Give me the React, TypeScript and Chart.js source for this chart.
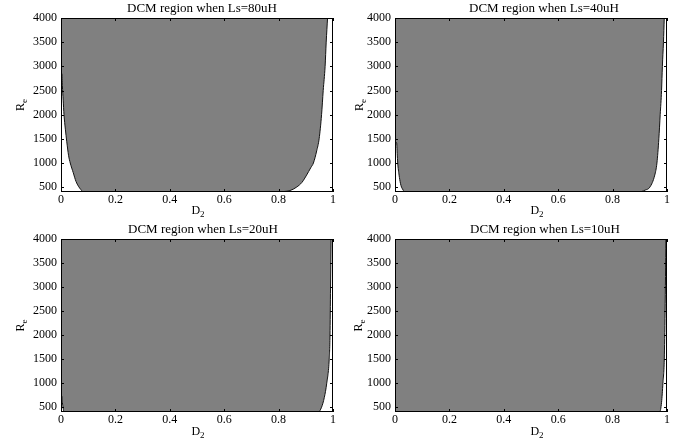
import React, { useEffect, useRef } from "react";
import { Chart, registerables } from "chart.js";

Chart.register(...registerables);

// ---- data ----
const xTicks = [0, 0.2, 0.4, 0.6, 0.8, 1];
const yTicks = [500, 1000, 1500, 2000, 2500, 3000, 3500, 4000];
const titles = [
  "DCM region when Ls=80uH",
  "DCM region when Ls=40uH",
  "DCM region when Ls=20uH",
  "DCM region when Ls=10uH",
];

// lower boundary of the DCM region (region lies above it)
const d80 = [0, 0.003, 0.005, 0.008, 0.011, 0.016, 0.021, 0.028, 0.034, 0.045, 0.055, 0.064, 0.073, 0.082,
  0.8, 0.82, 0.842, 0.866, 0.886, 0.903, 0.918, 0.928, 0.94, 0.949, 0.958, 0.964, 0.971, 0.975, 0.98];
const r80 = [2850, 2850, 2600, 2300, 2000, 1700, 1450, 1150, 1000, 800, 620, 520, 450, 400,
  400, 410, 430, 500, 600, 750, 900, 1000, 1250, 1500, 2000, 2500, 3000, 3500, 4000];

const d40 = [0, 0.006, 0.008, 0.01, 0.015, 0.02, 0.024, 0.03, 0.034,
  0.896, 0.92, 0.937, 0.955, 0.963, 0.97, 0.975, 0.98, 0.983, 0.987, 0.99];
const r40 = [1420, 1420, 1200, 1000, 750, 580, 500, 440, 400,
  400, 440, 500, 750, 1000, 1500, 2000, 2500, 3000, 3500, 4000];

const d20 = [0, 0.003, 0.005, 0.008, 0.011,
  0.946, 0.958, 0.968, 0.977, 0.986, 0.989, 0.991, 0.993];
const r20 = [730, 730, 600, 480, 400,
  400, 500, 700, 1000, 1500, 2000, 3000, 4000];

const d10 = [0, 0.973, 0.98, 0.985, 0.99, 0.993, 0.996];
const r10 = [400, 400, 600, 1000, 1500, 2500, 4000];

const series = [
  [d80, r80],
  [d40, r40],
  [d20, r20],
  [d10, r10],
];

const W = 344;
const H = 221;
const FONT = "'Liberation Serif', 'Times New Roman', serif";

type Panel = {
  left: number; right: number; top: number; bottom: number;
  titleX: number; xTitleX: number; yTitleX: number;
};

const panels: Panel[] = [
  { left: 61, right: 333, top: 18, bottom: 192, titleX: 202, xTitleX: 198, yTitleX: 24 },
  { left: 51, right: 323, top: 18, bottom: 192, titleX: 200, xTitleX: 193, yTitleX: 19 },
  { left: 61, right: 333, top: 18, bottom: 191, titleX: 203, xTitleX: 198, yTitleX: 24 },
  { left: 51, right: 323, top: 18, bottom: 191, titleX: 201, xTitleX: 193, yTitleX: 18 },
];

function makeDecor(idx: number) {
  const p = panels[idx];
  return {
    id: "decor" + idx,
    afterDatasetsDraw(chart: any) {
      const ctx = chart.ctx as CanvasRenderingContext2D;
      const a = chart.chartArea;
      const xs = chart.scales.x;
      const ys = chart.scales.y;
      ctx.save();
      ctx.strokeStyle = "#000";
      ctx.lineWidth = 1;
      // box
      ctx.strokeRect(a.left + 0.5, a.top + 0.5, a.right - a.left - 1, a.bottom - a.top - 1);
      // inward ticks
      const tl = 3;
      ctx.beginPath();
      xTicks.forEach((v) => {
        const x = Math.round(xs.getPixelForValue(v)) + 0.5;
        ctx.moveTo(x, a.bottom);
        ctx.lineTo(x, a.bottom - tl);
        ctx.moveTo(x, a.top);
        ctx.lineTo(x, a.top + tl);
      });
      yTicks.forEach((v) => {
        const y = Math.round(ys.getPixelForValue(v)) + 0.5;
        ctx.moveTo(a.left, y);
        ctx.lineTo(a.left + tl, y);
        ctx.moveTo(a.right, y);
        ctx.lineTo(a.right - tl, y);
      });
      ctx.stroke();

      ctx.fillStyle = "#000";
      // title
      ctx.font = "13px " + FONT;
      ctx.textAlign = "center";
      ctx.textBaseline = "alphabetic";
      ctx.fillText(titles[idx], p.titleX, 12);

      // x title D2
      ctx.font = "12px " + FONT;
      const wD = ctx.measureText("D").width;
      ctx.font = "9px " + FONT;
      const w2 = ctx.measureText("2").width;
      const x0 = p.xTitleX - (wD + w2) / 2;
      ctx.textAlign = "left";
      ctx.font = "12px " + FONT;
      ctx.fillText("D", x0, 214);
      ctx.font = "9px " + FONT;
      ctx.fillText("2", x0 + wD, 217);

      // y title Re (rotated)
      ctx.translate(p.yTitleX, (a.top + a.bottom) / 2);
      ctx.rotate(-Math.PI / 2);
      ctx.font = "12px " + FONT;
      const wR = ctx.measureText("R").width;
      ctx.font = "9px " + FONT;
      const we = ctx.measureText("e").width;
      const y0 = -(wR + we) / 2;
      ctx.font = "12px " + FONT;
      ctx.fillText("R", y0, 0);
      ctx.font = "9px " + FONT;
      ctx.fillText("e", y0 + wR, 3);
      ctx.restore();
    },
  };
}

function Panel({ idx }: { idx: number }) {
  const ref = useRef<HTMLCanvasElement>(null);
  useEffect(() => {
    const p = panels[idx];
    const [ds, rs] = series[idx];
    const data = ds.map((d, i) => ({ x: d, y: rs[i] }));
    const chart = new Chart(ref.current!, {
      type: "line",
      data: {
        datasets: [
          {
            data,
            borderColor: "#111",
            borderWidth: 1,
            backgroundColor: "#808080",
            fill: "end",
            pointRadius: 0,
            cubicInterpolationMode: "monotone",
          },
        ],
      },
      options: {
        animation: false,
        responsive: false,
        events: [],
        layout: {
          autoPadding: false,
          padding: { left: 0, top: p.top, right: W - p.right, bottom: 0 },
        },
        plugins: { legend: { display: false }, tooltip: { enabled: false }, title: { display: false } },
        scales: {
          x: {
            type: "linear",
            min: 0,
            max: 1,
            grid: { display: false, drawTicks: false },
            border: { display: false },
            afterBuildTicks: (s: any) => {
              s.ticks = xTicks.map((v) => ({ value: v }));
            },
            afterFit: (s: any) => {
              s.height = H - p.bottom;
            },
            ticks: {
              color: "#000",
              padding: 1,
              maxRotation: 0,
              autoSkip: false,
              font: { family: FONT, size: 12 },
              callback: (v: any) => String(v),
            },
          },
          y: {
            type: "linear",
            min: 400,
            max: 4000,
            grid: { display: false, drawTicks: false },
            border: { display: false },
            afterBuildTicks: (s: any) => {
              s.ticks = yTicks.map((v) => ({ value: v }));
            },
            afterFit: (s: any) => {
              s.width = p.left;
            },
            ticks: {
              color: "#000",
              padding: 4,
              autoSkip: false,
              font: { family: FONT, size: 12 },
              callback: (v: any) => String(v),
            },
          },
        },
      },
      plugins: [makeDecor(idx)],
    } as any);
    return () => chart.destroy();
  }, [idx]);
  const col = idx % 2;
  const row = Math.floor(idx / 2);
  return (
    <canvas
      ref={ref}
      width={W}
      height={H}
      style={{ position: "absolute", left: col * W, top: row * H, width: W, height: H }}
    />
  );
}

export default function App() {
  return (
    <div
      style={{
        position: "fixed",
        left: 0,
        top: 0,
        width: 688,
        height: 442,
        background: "#fff",
        overflow: "hidden",
      }}
    >
      {[0, 1, 2, 3].map((i) => (
        <Panel key={i} idx={i} />
      ))}
    </div>
  );
}
